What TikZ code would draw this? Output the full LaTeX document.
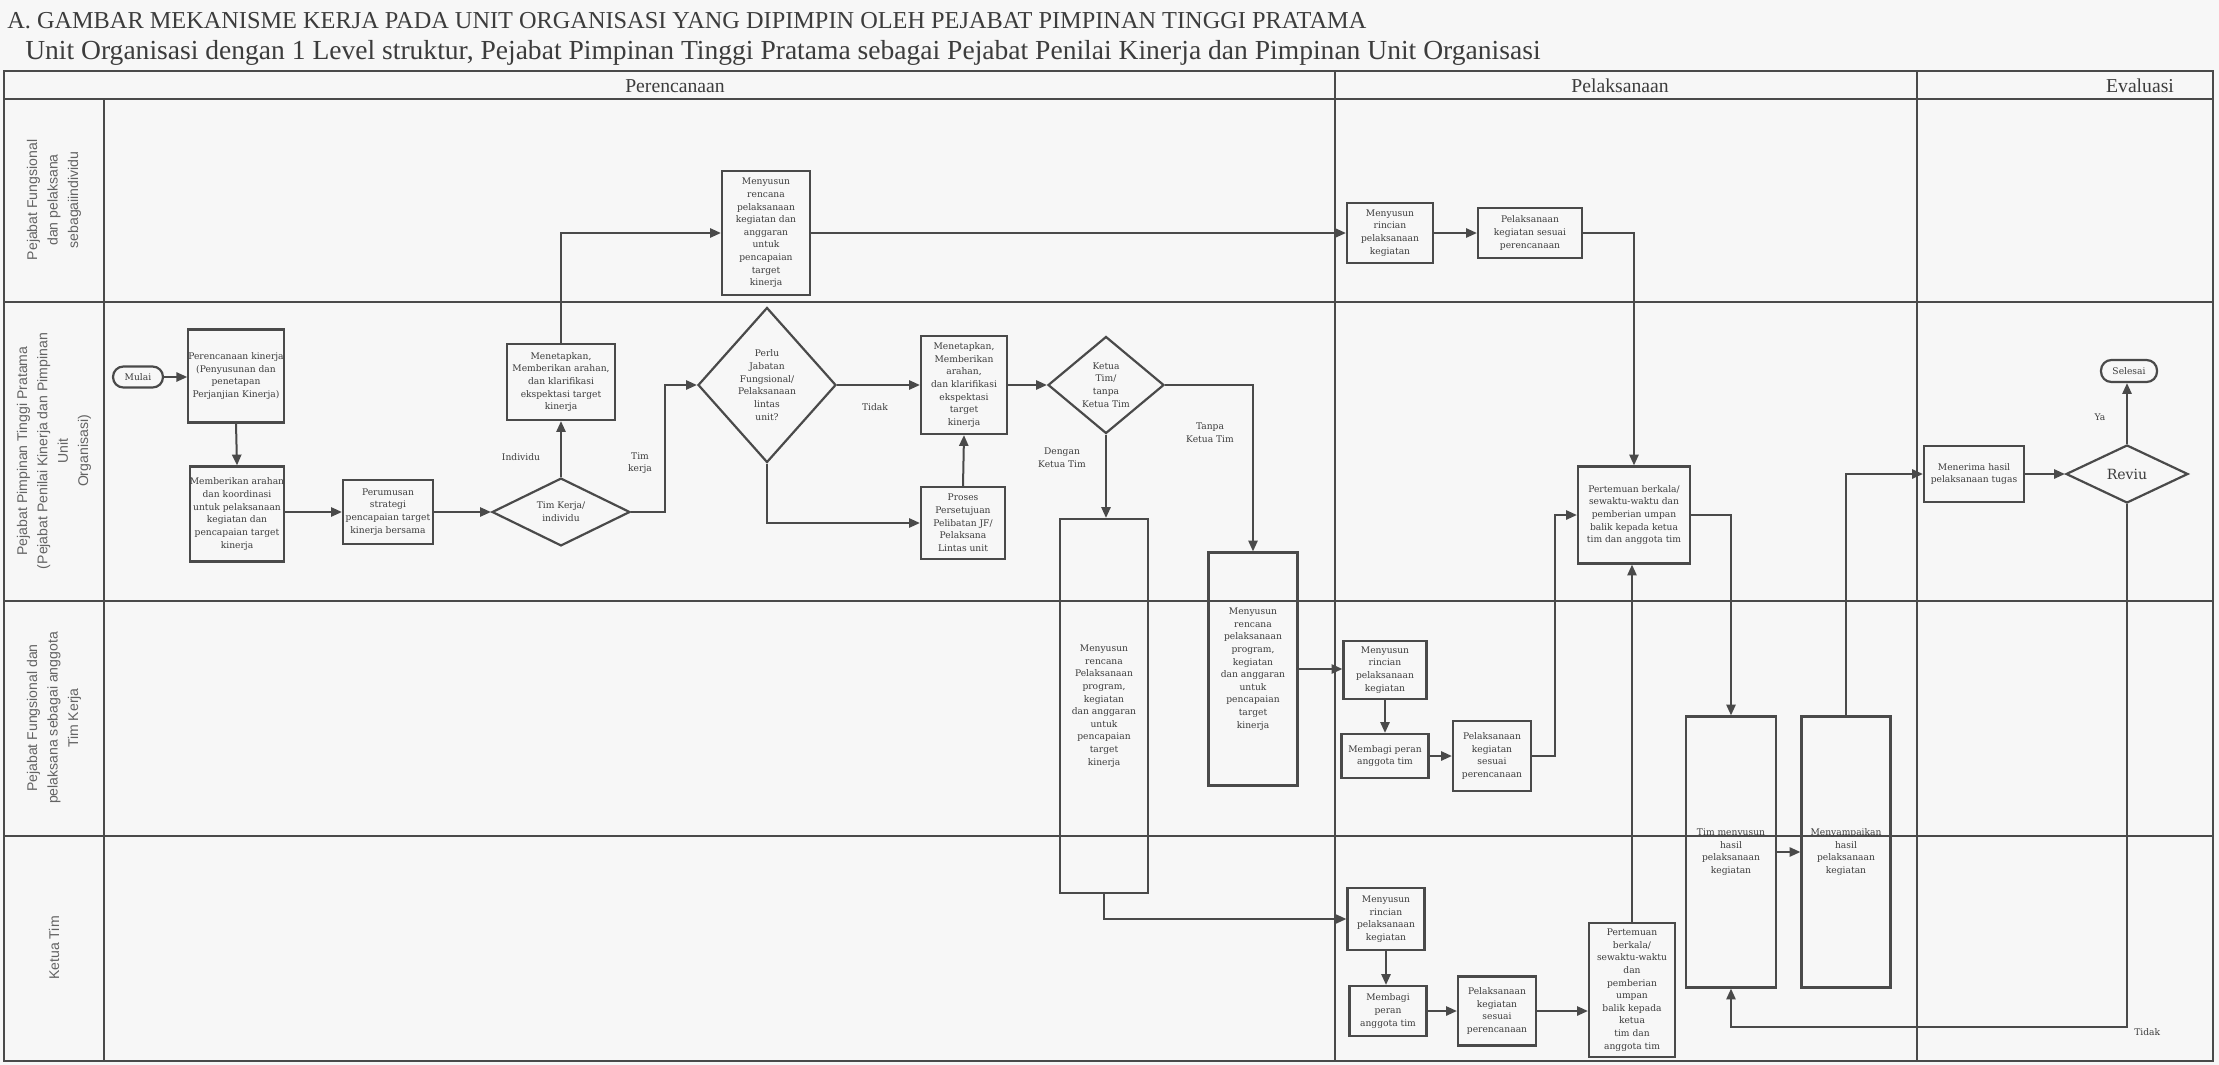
\documentclass[tikz,border=0pt]{standalone}
\usepackage{fontspec}
\setmainfont{DejaVu Serif}
\newfontfamily\titlefont{Liberation Serif}
\newfontfamily\lanefont{Liberation Sans}
\usetikzlibrary{arrows.meta,shapes.geometric}
\definecolor{lc}{HTML}{4A4A4A}
\definecolor{tc}{HTML}{3C3C3C}
\definecolor{bg}{HTML}{F7F7F7}
\newdimen\pxu \pxu=0.25mm
\newcommand\boxfont{\fontsize{6.5}{9}\selectfont}
\begin{document}
\begin{tikzpicture}[x=0.25mm,y=-0.25mm,
  frame/.style={draw=lc,line width=0.5mm},
  box/.style={draw=lc,line width=0.55mm,align=center,inner sep=0pt,font=\boxfont,text=tc},
  diam/.style={diamond,draw=lc,line width=0.55mm,align=center,inner sep=0pt,font=\boxfont,text=tc},
  term/.style={draw=lc,line width=0.55mm,rounded corners=2.6mm,align=center,inner sep=0pt,font=\boxfont,text=tc},
  conn/.style={draw=lc,line width=0.5mm,-{Triangle[length=2.7mm,width=2.3mm]}},
  lbl/.style={font=\boxfont,text=tc,align=center,inner sep=0pt},
  lanelbl/.style={font=\lanefont\fontsize{10}{14.5}\selectfont,text=tc!80,align=center,rotate=90,inner sep=0pt},
  hdr/.style={font=\titlefont\fontsize{14}{16}\selectfont,text=tc,inner sep=0pt}
]
\useasboundingbox (0,0) rectangle (2219,1065);
\fill[bg] (0,0) rectangle (2219,1065);

% titles
\node[font=\titlefont\fontsize{17.3}{19}\selectfont,text=tc,anchor=west,inner sep=0pt] (title) at (7,21) {A. GAMBAR MEKANISME KERJA PADA UNIT ORGANISASI YANG DIPIMPIN OLEH PEJABAT PIMPINAN TINGGI PRATAMA};
\node[font=\titlefont\fontsize{19.6}{21}\selectfont,text=tc,anchor=west,inner sep=0pt] (subtitle) at (25,53) {Unit Organisasi dengan 1 Level struktur, Pejabat Pimpinan Tinggi Pratama sebagai Pejabat Penilai Kinerja dan Pimpinan Unit Organisasi};

% frame
\draw[frame] (4,71) rectangle (2213,1061);
\draw[frame] (4,99) -- (2213,99);
\draw[frame] (104,99) -- (104,1061);
\draw[frame] (1335,71) -- (1335,1061);
\draw[frame] (1917,71) -- (1917,1061);
\draw[frame] (4,302) -- (2213,302);
\draw[frame] (4,601) -- (2213,601);
\draw[frame] (4,836) -- (2213,836);

\node[hdr] (hperenc) at (675,86) {Perencanaan};
\node[hdr] (hpelaks) at (1620,86) {Pelaksanaan};
\node[hdr] (heval) at (2140,86) {Evaluasi};

\node[lanelbl] (lane1) at (54,200) {Pejabat Fungsional\\dan pelaksana\\sebagaiindividu};
\node[lanelbl] (lane2) at (54,451) {Pejabat Pimpinan Tinggi Pratama\\(Pejabat Penilai Kinerja dan Pimpinan\\Unit\\Organisasi)};
\node[lanelbl] (lane3) at (54,718) {Pejabat Fungsional dan\\pelaksana sebagai anggota\\Tim Kerja};
\node[lanelbl] (lane4) at (54,948) {Ketua Tim};

% lane 2 planning
\node[term,minimum width=50\pxu,minimum height=21\pxu] (mulai) at (138,377) {Mulai};
\node[box,minimum width=92\pxu,minimum height=93\pxu] (perenc) at (236,376) {Perencanaan kinerja\\(Penyusunan dan\\penetapan\\Perjanjian Kinerja)};
\node[box,minimum width=88\pxu,minimum height=95\pxu] (arahan) at (237,514) {Memberikan arahan\\dan koordinasi\\untuk pelaksanaan\\kegiatan dan\\pencapaian target\\kinerja};
\node[box,minimum width=90\pxu,minimum height=64\pxu] (perumusan) at (388,512) {Perumusan\\strategi\\pencapaian target\\kinerja bersama};
\node[diam,minimum width=138\pxu,minimum height=56\pxu] (tk) at (561,512) {Tim Kerja/\\individu};
\node[box,minimum width=108\pxu,minimum height=76\pxu] (menetA) at (561,382) {Menetapkan,\\Memberikan arahan,\\dan klarifikasi\\ekspektasi target\\kinerja};
\node[diam,minimum width=138\pxu,minimum height=155\pxu] (perlu) at (767,385) {Perlu\\Jabatan\\Fungsional/\\Pelaksanaan\\lintas\\unit?};
\node[box,minimum width=86\pxu,minimum height=98\pxu] (menetB) at (964,385) {Menetapkan,\\Memberikan\\arahan,\\dan klarifikasi\\ekspektasi\\target\\kinerja};
\node[box,minimum width=84\pxu,minimum height=72\pxu] (proses) at (963,523) {Proses\\Persetujuan\\Pelibatan JF/\\Pelaksana\\Lintas unit};
\node[diam,minimum width=116\pxu,minimum height=97\pxu] (kt) at (1106,385) {Ketua\\Tim/\\tanpa\\Ketua Tim};

% lane 1
\node[box,minimum width=88\pxu,minimum height=124\pxu] (rencanaL1) at (766,233) {Menyusun\\rencana\\pelaksanaan\\kegiatan dan\\anggaran\\untuk\\pencapaian\\target\\kinerja};
\node[box,minimum width=86\pxu,minimum height=60\pxu] (rincianL1) at (1390,233) {Menyusun\\rincian\\pelaksanaan\\kegiatan};
\node[box,minimum width=104\pxu,minimum height=50\pxu] (pelaksL1) at (1530,233) {Pelaksanaan\\kegiatan sesuai\\perencanaan};

% tall planning boxes
\node[box,minimum width=88\pxu,minimum height=374\pxu] (tallL) at (1104,706) {Menyusun\\rencana\\Pelaksanaan\\program,\\kegiatan\\dan anggaran\\untuk\\pencapaian\\target\\kinerja};
\node[box,minimum width=89\pxu,minimum height=233\pxu] (tallR) at (1253,669) {Menyusun\\rencana\\pelaksanaan\\program,\\kegiatan\\dan anggaran\\untuk\\pencapaian\\target\\kinerja};

% lane 2 execution / evaluation
\node[box,minimum width=112\pxu,minimum height=97\pxu] (pertA) at (1634,515) {Pertemuan berkala/\\sewaktu-waktu dan\\pemberian umpan\\balik kepada ketua\\tim dan anggota tim};
\node[box,minimum width=100\pxu,minimum height=56\pxu] (menerima) at (1974,474) {Menerima hasil\\pelaksanaan tugas};
\node[diam,minimum width=122\pxu,minimum height=58\pxu,font=\fontsize{10}{11}\selectfont] (reviu) at (2127,474) {Reviu};
\node[term,minimum width=56\pxu,minimum height=22\pxu] (selesai) at (2129,371) {Selesai};

% lane 3
\node[box,minimum width=83\pxu,minimum height=58\pxu] (rincianL3) at (1385,670) {Menyusun\\rincian\\pelaksanaan\\kegiatan};
\node[box,minimum width=87\pxu,minimum height=44\pxu] (membagiL3) at (1385,756) {Membagi peran\\anggota tim};
\node[box,minimum width=78\pxu,minimum height=70\pxu] (pelaksL3) at (1492,756) {Pelaksanaan\\kegiatan\\sesuai\\perencanaan};

% lane 4
\node[box,minimum width=77\pxu,minimum height=62\pxu] (rincianL4) at (1386,919) {Menyusun\\rincian\\pelaksanaan\\kegiatan};
\node[box,minimum width=77\pxu,minimum height=50\pxu] (membagiL4) at (1388,1011) {Membagi\\peran\\anggota tim};
\node[box,minimum width=78\pxu,minimum height=69\pxu] (pelaksL4) at (1497,1011) {Pelaksanaan\\kegiatan\\sesuai\\perencanaan};
\node[box,minimum width=86\pxu,minimum height=134\pxu] (pertL4) at (1632,990) {Pertemuan\\berkala/\\sewaktu-waktu\\dan\\pemberian\\umpan\\balik kepada\\ketua\\tim dan\\anggota tim};

% tall execution boxes
\node[box,minimum width=90\pxu,minimum height=271\pxu] (hasil) at (1731,852) {Tim menyusun\\hasil\\pelaksanaan\\kegiatan};
\node[box,minimum width=89\pxu,minimum height=271\pxu] (sampai) at (1846,852) {Menyampaikan\\hasil\\pelaksanaan\\kegiatan};

% helper coordinates
\coordinate (xtk) at (665,0);
\coordinate (xp3) at (1555,0);
\coordinate (tidakc) at (2127,1027);

% connectors
\draw[conn] (mulai.east) -- (perenc.west |- mulai.east);
\draw[conn] (perenc.south) -- (arahan.north);
\draw[conn] (arahan.east |- perumusan.west) -- (perumusan.west);
\draw[conn] (perumusan.east) -- (tk.west);
\draw[conn] (tk.north) -- (menetA.south);
\draw[conn] (menetA.north) |- (rencanaL1.west);
\draw[conn] (tk.east) -| (xtk |- perlu.west) -- (perlu.west);
\draw[conn] (rencanaL1.east) -- (rencanaL1.east -| rincianL1.west);
\draw[conn] (perlu.east) -- (menetB.west);
\draw[conn] (perlu.south) |- (proses.west);
\draw[conn] (proses.north) -- (menetB.south);
\draw[conn] (menetB.east) -- (kt.west);
\draw[conn] (kt.south) -- (kt.south |- tallL.north);
\draw[conn] (kt.east) -| (tallR.north);
\draw[conn] (tallR.east) -- (tallR.east -| rincianL3.west);
\draw[conn] (tallL.south) |- (rincianL4.west);
\draw[conn] (rincianL1.east) -- (rincianL1.east -| pelaksL1.west);
\draw[conn] (pelaksL1.east) -| (pertA.north);
\draw[conn] (rincianL3.south) -- (membagiL3.north);
\draw[conn] (membagiL3.east) -- (membagiL3.east -| pelaksL3.west);
\draw[conn] (pelaksL3.east) -| (xp3 |- pertA.west) -- (pertA.west);
\draw[conn] (rincianL4.south) -- (rincianL4.south |- membagiL4.north);
\draw[conn] (membagiL4.east) -- (membagiL4.east -| pelaksL4.west);
\draw[conn] (pelaksL4.east) -- (pelaksL4.east -| pertL4.west);
\draw[conn] (pertL4.north) -- (pertL4.north |- pertA.south);
\draw[conn] (pertA.east) -| (hasil.north);
\draw[conn] (hasil.east) -- (sampai.west);
\draw[conn] (sampai.north) |- (menerima.west);
\draw[conn] (menerima.east) -- (reviu.west);
\draw[conn] (reviu.north) -- (reviu.north |- selesai.south);
\draw[conn] (reviu.south) -- (tidakc) -| (hasil.south);

% labels
\node[lbl] (lindiv) at (521,457) {Individu};
\node[lbl] (ltim) at (640,463) {Tim\\kerja};
\node[lbl] (ltidak) at (875,407) {Tidak};
\node[lbl] (ldengan) at (1062,458) {Dengan\\Ketua Tim};
\node[lbl] (ltanpa) at (1210,433) {Tanpa\\Ketua Tim};
\node[lbl] (lya) at (2100,417) {Ya};
\node[lbl,anchor=west] (ltidak2) at (2134,1032) {Tidak};
\end{tikzpicture}
\end{document}
